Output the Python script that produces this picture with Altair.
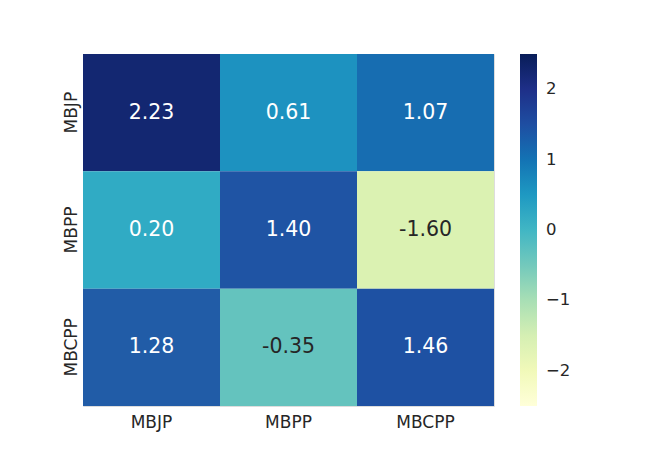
import altair as alt
import pandas as pd

cols = ["MBJP", "MBPP", "MBCPP"]
rows = ["MBJP", "MBPP", "MBCPP"]
values = [
    [2.23, 0.61, 1.07],
    [0.20, 1.40, -1.60],
    [1.28, -0.35, 1.46],
]
ylgnbu = ["#ffffd9", "#edf8b1", "#c7e9b4", "#7fcdbb", "#41b6c4",
          "#1d91c0", "#225ea8", "#253494", "#081d58"]
vmin, vmax = -2.5, 2.5
legend_ticks = [-2, -1, 0, 1, 2]

recs = []
for r, rowname in enumerate(rows):
    for c, colname in enumerate(cols):
        v = values[r][c]
        recs.append({"row": rowname, "col": colname, "value": v, "label": f"{v:.2f}"})
df = pd.DataFrame(recs)

n = len(ylgnbu)
stops = [vmin + (vmax - vmin) * i / (n - 1) for i in range(n)]

x = alt.X("col:N", sort=cols, title=None,
          scale=alt.Scale(paddingInner=0, paddingOuter=0),
          axis=alt.Axis(labelAngle=0, domain=False, ticks=False, labelPadding=8,
                        labelFontSize=17, labelColor="#262626", labelFont="DejaVu Sans"))
y = alt.Y("row:N", sort=rows, title=None,
          scale=alt.Scale(paddingInner=0, paddingOuter=0),
          axis=alt.Axis(labelAngle=-90, domain=False, ticks=False, labelPadding=3,
                        labelFontSize=17, labelColor="#262626", labelFont="DejaVu Sans"))

rect = alt.Chart(df).mark_rect(strokeWidth=0).encode(
    x=x, y=y,
    color=alt.Color("value:Q",
                    scale=alt.Scale(domain=stops, range=ylgnbu),
                    legend=alt.Legend(title=None, orient="none", legendX=437, legendY=0,
                                      direction="vertical", gradientLength=352,
                                      gradientThickness=17, gradientStrokeWidth=0,
                                      values=legend_ticks, labelFontSize=16.5,
                                      labelColor="#262626", labelFont="DejaVu Sans",
                                      labelOffset=9, padding=0)),
)

text = alt.Chart(df).mark_text(fontSize=20.5, font="DejaVu Sans", baseline="middle").encode(
    x=x, y=y,
    text="label:N",
    color=alt.condition("datum.value < -0.2", alt.value("#262626"), alt.value("white")),
)

chart = (rect + text).properties(
    width=411, height=352,
    autosize=alt.AutoSizeParams(type="none"),
    padding={"left": 75, "top": 46, "right": 162, "bottom": 43},
).configure_view(strokeWidth=0).configure(background="white")

chart.save("out.html", embed_options={"renderer": "svg", "actions": False})
